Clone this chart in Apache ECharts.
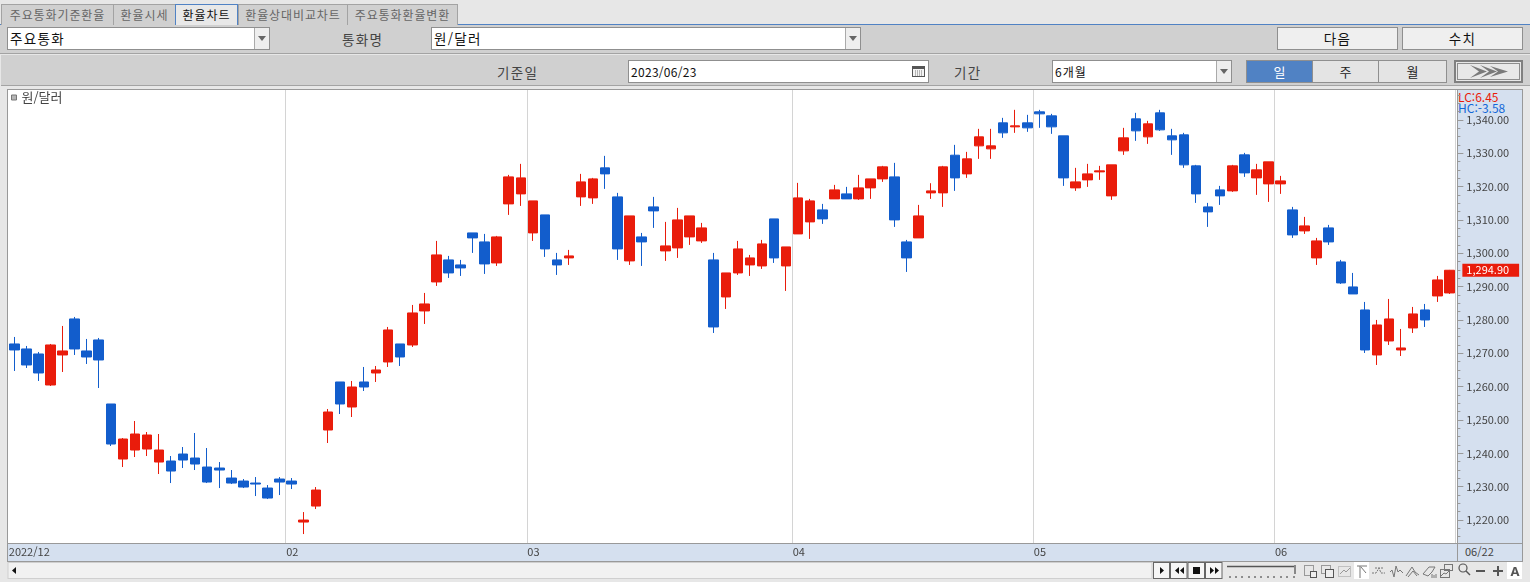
<!DOCTYPE html>
<html lang="ko">
<head>
<meta charset="utf-8">
<title>환율차트</title>
<script src="https://cdn.jsdelivr.net/npm/echarts@6/dist/echarts.min.js"></script>
<style>
html,body{margin:0;padding:0;width:1530px;height:582px;overflow:hidden;background:#e7e7e7;font-family:"Noto Sans CJK KR","Noto Sans",sans-serif;}
.a{position:absolute;box-sizing:border-box;white-space:nowrap;}
.tab{top:4px;height:21px;background:#d0d0d0;border:1px solid #a3a3a3;border-bottom:none;color:#666;font-size:12px;line-height:19px;text-align:center;letter-spacing:.9px;}
.tab.on{background:#e8e8e8;border:1px solid #5082c4;border-bottom:none;color:#111;height:21px;z-index:3;}
.box{background:#fff;border:1px solid #8f8f8f;color:#111;font-size:13.5px;line-height:21px;padding-left:2px;letter-spacing:1.3px;}
.arrow{background:#eee;border-left:1px solid #aaa;top:0;bottom:0;right:0;width:15px;}
.arrow:after{content:"";position:absolute;left:3px;top:8px;border-left:4px solid transparent;border-right:4px solid transparent;border-top:5px solid #666;}
.lbl{font-size:13.5px;color:#444;line-height:18px;letter-spacing:1.3px;}
.btn{top:27px;height:23px;background:#efefef;border:1px solid #8f8f8f;color:#111;font-size:13.5px;line-height:21px;text-align:center;letter-spacing:1.3px;}
.seg{top:60px;height:23px;background:#e4e4e4;border:1px solid #8f8f8f;color:#222;font-size:13px;line-height:21px;text-align:center;}
.seg.on{background:#5082c4;color:#fff;}
#chart{position:absolute;left:0;top:0;width:1530px;height:582px;}
</style>
</head>
<body>
<!-- top tabs -->
<div class="a" style="left:0;top:24px;width:1530px;height:1px;background:#5082c4"></div>
<div class="a tab" style="left:1px;width:113px">주요통화기준환율</div>
<div class="a tab" style="left:113px;width:63px">환율시세</div>
<div class="a tab on" style="left:175px;width:63px">환율차트</div>
<div class="a tab" style="left:238px;width:110px">환율상대비교차트</div>
<div class="a tab" style="left:347px;width:111px">주요통화환율변환</div>
<!-- row 2 -->
<div class="a" style="left:0;top:25px;width:1530px;height:29px;background:#d0d0d0;border-bottom:1px solid #a3a3a3"></div>
<div class="a box" style="left:7px;top:27px;width:263px;height:23px">주요통화<div class="a arrow"></div></div>
<div class="a lbl" style="left:342px;top:30px">통화명</div>
<div class="a box" style="left:431px;top:27px;width:430px;height:23px">원/달러<div class="a arrow"></div></div>
<div class="a btn" style="left:1277px;width:121px">다음</div>
<div class="a btn" style="left:1402px;width:121px">수치</div>
<!-- row 3 -->
<div class="a" style="left:1px;top:55px;width:1529px;height:31px;background:#d0d0d0;border-bottom:1px solid #a3a3a3"></div>
<div class="a lbl" style="left:497px;top:63px">기준일</div>
<div class="a box" style="left:628px;top:60px;width:301px;height:23px;font-size:12px;letter-spacing:.3px">2023/06/23
  <svg class="a" style="right:2px;top:3px" width="15" height="15"><rect x="1.5" y="2.5" width="12" height="10" fill="#f4f4f4" stroke="#555"/><rect x="2" y="3" width="11" height="2" fill="#555"/><path d="M4 7h7M4 9h7M4 11h7" stroke="#777" stroke-dasharray="1 1"/></svg>
</div>
<div class="a lbl" style="left:954px;top:63px">기간</div>
<div class="a box" style="left:1052px;top:60px;width:180px;height:23px;font-size:12px;letter-spacing:1px">6개월<div class="a arrow"></div></div>
<div class="a seg on" style="left:1246px;width:67px">일</div>
<div class="a seg" style="left:1312px;width:67px">주</div>
<div class="a seg" style="left:1378px;width:69px">월</div>
<div class="a" style="left:1454px;top:60px;width:69px;height:23px;background:#e8e8e8;border:2px solid #808080">
  <svg class="a" style="left:0;top:0" width="65" height="19"><rect x="1.5" y="1.5" width="62" height="16" fill="none" stroke="#333" stroke-dasharray="1 1"/><path d="M14 3l17 6.500-17 6.500 9-6.500zM24 3l17 6.500-17 6.500 9-6.500zM34 4l18 5.500-18 5.500 8-5.500z" fill="#7a7a7a"/></svg>
</div>
<!-- plot frame and axis bands -->
<div class="a" style="left:7px;top:89px;width:1516px;height:473px;background:#fff;border:1px solid #999"></div>
<div class="a" style="left:1458px;top:90px;width:64px;height:471px;background:#d5e0ef"></div>
<div class="a" style="left:8px;top:543px;width:1514px;height:18px;background:#d5e0ef;border-top:1px solid #999"></div>
<div class="a" style="left:1457px;top:543px;width:1px;height:18px;background:#999"></div>
<div class="a" style="left:1465px;top:543px;font-size:11px;line-height:16px;color:#444">06/22</div>
<div class="a" style="left:1458px;top:91px;font-size:12px;line-height:12px;color:#e91c0b">LC:6.45</div>
<div class="a" style="left:1458px;top:102px;font-size:12px;line-height:12px;color:#1268d8">HC:-3.58</div>

<div id="chart"></div>

<!-- bottom scroll bar and tool icons -->
<svg class="a" style="left:0;top:560px;z-index:4" width="1530" height="22" viewBox="0 560 1530 22">
  <rect x="8" y="562.5" width="1144" height="16" fill="#f1f1f1" stroke="#cfcfcf"/>
  <path d="M16 567v7l-4-3.5z" fill="#111"/>
  <g fill="#f6f6f6" stroke="#666">
    <rect x="1153.5" y="562.5" width="16" height="16"/><rect x="1170.5" y="562.5" width="16.500" height="16"/><rect x="1188" y="562.5" width="16.500" height="16"/><rect x="1205.500" y="562.5" width="16.500" height="16"/>
  </g>
  <path d="M1160 567v7l4-3.500zM1179 567v7l-4-3.500zM1184 567v7l-4-3.500zM1193 567h7v7h-7zM1210 567v7l4-3.500zM1215 567v7l4-3.500z" fill="#111"/>
  <path d="M1227 566.500h68" stroke="#555" stroke-width="1.500"/><rect x="1294" y="565" width="2" height="9" fill="#888"/>
  <path d="M1230 576v2M1236 576v2M1242 576v2M1249 576v2M1255 576v2M1261 576v2M1268 576v2M1274 576v2M1281 576v2M1287 576v2M1294 576v2" stroke="#333"/>
  <g fill="none" stroke="#999">
    <rect x="1304.500" y="565.500" width="9" height="10"/><rect x="1310.500" y="571.500" width="6" height="6" fill="#eee" stroke="#555"/>
    <rect x="1321.500" y="565.500" width="9" height="8"/><rect x="1325.500" y="569.500" width="8" height="8" fill="#eee" stroke="#555"/>
    <rect x="1338.500" y="566.500" width="12" height="10" stroke-dasharray="1 1"/><path d="M1340 574l4-4 2 2 4-4"/>
  </g>
  <rect x="1354" y="562" width="15" height="17" fill="#fff"/>
  <g fill="none" stroke="#777">
    <path d="M1357 566h10M1360 566v12M1361 567l5 6"/>
    <path d="M1372 573h4l3-5 2 5h4M1375 568h8" stroke-dasharray="2 1"/>
    <path d="M1390 572l2-2 2 7 2-11 2 6 2-2 3 3"/>
    <path d="M1406 576l6-9 3 5 4 3M1408 577l5-6 4 5"/>
    <path d="M1423 574l6-7h6l-3 5-4 4zM1432 574v4M1434 575v3M1436 574v4"/>
    <rect x="1440.500" y="569.500" width="9" height="8"/><rect x="1444.500" y="564.500" width="8" height="6"/><path d="M1441 576l3-3 2 1 3-3"/>
  </g>
  <circle cx="1463" cy="568" r="4" fill="none" stroke="#555" stroke-width="1.200"/><path d="M1466 571l4 4" stroke="#555" stroke-width="1.500"/>
  <path d="M1476 571h9M1493 571h10M1498 566v10" stroke="#555" stroke-width="2"/>
  <rect x="1507" y="562" width="15" height="17" fill="#fff"/>
  <text x="1515" y="576" text-anchor="middle" font-size="13" font-weight="700" fill="#555" font-family="Noto Sans">A</text>
</svg>

<script>
const seriesName = '원/달러';
const categories = [
'2022/12/27','2022/12/28','2022/12/29',
'2023/01/02','2023/01/03','2023/01/04','2023/01/05','2023/01/06','2023/01/09','2023/01/10','2023/01/11','2023/01/12','2023/01/13','2023/01/16','2023/01/17','2023/01/18','2023/01/19','2023/01/20','2023/01/25','2023/01/26','2023/01/27','2023/01/30','2023/01/31',
'2023/02/01','2023/02/02','2023/02/03','2023/02/06','2023/02/07','2023/02/08','2023/02/09','2023/02/10','2023/02/13','2023/02/14','2023/02/15','2023/02/16','2023/02/17','2023/02/20','2023/02/21','2023/02/22','2023/02/23','2023/02/24','2023/02/27','2023/02/28',
'2023/03/02','2023/03/03','2023/03/06','2023/03/07','2023/03/08','2023/03/09','2023/03/10','2023/03/13','2023/03/14','2023/03/15','2023/03/16','2023/03/17','2023/03/20','2023/03/21','2023/03/22','2023/03/23','2023/03/24','2023/03/27','2023/03/28','2023/03/29','2023/03/30','2023/03/31',
'2023/04/03','2023/04/04','2023/04/05','2023/04/06','2023/04/07','2023/04/10','2023/04/11','2023/04/12','2023/04/13','2023/04/14','2023/04/17','2023/04/18','2023/04/19','2023/04/20','2023/04/21','2023/04/24','2023/04/25','2023/04/26','2023/04/27','2023/04/28',
'2023/05/02','2023/05/03','2023/05/04','2023/05/08','2023/05/09','2023/05/10','2023/05/11','2023/05/12','2023/05/15','2023/05/16','2023/05/17','2023/05/18','2023/05/19','2023/05/22','2023/05/23','2023/05/24','2023/05/25','2023/05/26','2023/05/30','2023/05/31',
'2023/06/01','2023/06/02','2023/06/05','2023/06/07','2023/06/08','2023/06/09','2023/06/12','2023/06/13','2023/06/14','2023/06/15','2023/06/16','2023/06/19','2023/06/20','2023/06/21','2023/06/22'];

const opens = [
1272.8,1271.3,1269.8,1260.5,1269.5,1280.3,1270.7,1274.0,1254.8,1238.3,
1241.0,1241.3,1237.4,1237.7,1239.8,1238.6,1235.9,1235.6,1232.6,1231.7,
1231.1,1229.6,1232.3,1231.7,1219.4,1224.2,1247.0,1261.4,1253.9,1261.4,
1264.1,1267.4,1272.8,1272.5,1282.7,1291.4,1298.0,1296.5,1306.1,1303.4,
1297.1,1314.8,1317.8,1306.1,1311.5,1298.0,1298.6,1316.9,1316.6,1325.6,
1316.9,1297.7,1304.9,1313.9,1300.7,1301.6,1304.9,1303.7,1298.0,1286.9,
1294.1,1296.5,1296.2,1310.3,1296.2,1305.8,1309.4,1313.0,1316.3,1317.8,
1316.3,1319.6,1322.3,1322.9,1303.4,1304.6,1318.1,1318.1,1329.4,1323.8,
1332.2,1331.3,1339.1,1337.9,1339.1,1342.4,1341.2,1335.2,1319.6,1322.0,
1324.4,1317.2,1330.7,1340.3,1334.9,1342.1,1335.2,1335.5,1326.2,1313.9,
1319.0,1318.7,1329.5,1322.6,1320.8,1320.8,1313.0,1306.7,1298.6,1307.6,
1297.4,1289.9,1283.0,1269.5,1273.7,1271.0,1277.6,1283.0,1287.2,1288.1];

const closes = [
1271.0,1266.5,1264.1,1272.5,1270.7,1271.3,1268.9,1268.0,1242.8,1244.3,
1245.8,1245.5,1241.0,1234.7,1238.0,1236.8,1231.4,1235.0,1231.1,1229.9,
1230.8,1226.6,1231.4,1230.8,1220.0,1229.0,1252.4,1254.8,1259.9,1259.9,
1265.0,1277.0,1268.9,1282.1,1284.8,1299.5,1294.1,1295.6,1304.6,1296.8,
1304.9,1322.9,1322.6,1315.7,1301.3,1296.5,1299.2,1321.4,1322.3,1323.8,
1301.3,1311.2,1303.4,1312.7,1302.2,1310.0,1311.2,1307.6,1277.9,1294.1,
1301.3,1298.6,1302.8,1298.6,1301.9,1316.6,1315.7,1310.3,1319.0,1316.3,
1319.6,1322.3,1325.9,1310.0,1298.6,1311.2,1318.7,1325.9,1322.6,1328.3,
1334.9,1332.2,1336.1,1338.2,1337.6,1341.8,1337.9,1322.6,1321.4,1323.8,
1324.7,1326.5,1334.6,1336.7,1338.8,1337.0,1334.0,1326.5,1317.8,1312.4,
1317.2,1326.2,1324.1,1325.0,1327.4,1321.7,1305.5,1308.2,1303.7,1303.4,
1291.1,1287.8,1271.0,1278.5,1280.3,1271.6,1281.8,1280.0,1292.0,1294.9];

const lows = [
1264.7,1265.6,1261.7,1260.2,1264.4,1269.5,1266.8,1259.6,1242.2,1235.9,
1238.9,1239.2,1233.8,1231.1,1235.6,1235.0,1231.1,1229.6,1230.8,1229.6,
1227.2,1226.3,1227.5,1229.3,1215.8,1223.3,1243.1,1251.8,1250.9,1258.7,
1261.4,1265.9,1266.2,1271.9,1278.8,1290.2,1292.6,1293.2,1300.1,1293.8,
1296.2,1311.5,1314.2,1303.7,1298.9,1293.5,1296.5,1314.2,1314.8,1319.3,
1298.0,1296.5,1296.2,1307.6,1297.7,1298.6,1302.5,1303.1,1276.1,1283.3,
1293.5,1293.2,1295.3,1297.1,1288.7,1305.8,1304.3,1308.8,1316.3,1316.3,
1316.0,1316.3,1321.4,1307.9,1294.4,1304.6,1316.3,1313.9,1318.7,1322.6,
1328.3,1328.3,1334.6,1336.1,1336.4,1337.6,1335.8,1320.2,1318.7,1319.9,
1322.0,1316.0,1329.5,1333.7,1332.8,1336.7,1329.5,1325.6,1315.1,1307.9,
1314.5,1318.4,1322.9,1317.5,1315.4,1317.8,1304.6,1305.8,1296.5,1302.5,
1290.8,1287.8,1270.1,1266.5,1272.5,1269.2,1276.1,1277.9,1285.4,1287.8];

const highs = [
1274.9,1272.2,1270.4,1272.8,1278.2,1280.9,1274.3,1274.6,1254.8,1244.6,
1249.7,1246.4,1245.8,1239.2,1241.9,1246.1,1241.6,1237.4,1235.0,1232.3,
1232.9,1230.5,1232.9,1232.6,1222.4,1229.9,1253.3,1261.4,1261.7,1265.9,
1266.2,1277.9,1272.8,1284.5,1288.1,1303.7,1299.2,1298.0,1306.1,1305.8,
1305.2,1323.5,1326.8,1315.7,1311.5,1300.1,1301.0,1323.8,1322.6,1329.2,
1318.1,1311.2,1306.1,1316.9,1309.4,1313.6,1311.2,1309.1,1300.1,1294.1,
1303.7,1299.5,1304.0,1310.3,1301.9,1321.1,1316.3,1314.8,1320.5,1319.9,
1323.5,1322.3,1326.2,1327.1,1304.0,1314.5,1321.0,1326.2,1332.5,1330.4,
1337.3,1337.3,1340.6,1343.0,1341.5,1343.0,1341.8,1335.2,1325.6,1326.8,
1326.2,1326.5,1337.6,1342.1,1339.7,1343.0,1337.3,1336.1,1326.5,1315.1,
1320.2,1326.5,1330.1,1326.8,1327.4,1323.2,1313.9,1310.9,1304.6,1308.5,
1298.0,1294.1,1285.4,1280.0,1286.3,1277.3,1283.9,1284.8,1293.2,1295.0];

const monthLabels = {'2022/12/27':'2022/12','2023/02/01':'02','2023/03/02':'03','2023/04/03':'04','2023/05/02':'05','2023/06/01':'06'};
const gridDates = ['2023/02/01','2023/03/02','2023/04/03','2023/05/02','2023/06/01'];
const yLabels = [1220,1230,1240,1250,1260,1270,1280,1290,1300,1310,1320,1330,1340];
const yMinorTicks = [1215,1217.5,1222.5,1225,1227.5,1232.5,1235,1237.5,1242.5,1245,1247.5,1252.5,1255,1257.5,1262.5,1265,1267.5,1272.5,1275,1277.5,1282.5,1285,1287.5,1292.5,1295,1297.5,1302.5,1305,1307.5,1312.5,1315,1317.5,1322.5,1325,1327.5,1332.5,1335,1337.5,1342.5,1345,1347.5];
const yRange = [1213.12, 1348.95];
const lastClose = 1294.9;

const candles = categories.map((_, i) => [opens[i], closes[i], lows[i], highs[i]]);
const money = v => v.toLocaleString('en-US', {minimumFractionDigits: 2, maximumFractionDigits: 2});
const RED = '#e91c0b', BLUE = '#125dcc';
const chart = echarts.init(document.getElementById('chart'), null, {renderer: 'canvas'});
const yBase = {type: 'value', position: 'right', offset: 2, min: yRange[0], max: yRange[1], scale: true, splitLine: {show: false}};
chart.setOption({
  animation: false,
  backgroundColor: 'transparent',
  textStyle: {fontFamily: '"Noto Sans CJK KR","Noto Sans",sans-serif'},
  legend: {
    left: 8, top: 91, itemWidth: 5, itemHeight: 5, itemGap: 4, padding: [0, 0, 0, 3],
    data: [{name: seriesName, icon: 'rect', itemStyle: {color: '#b5b5b5', borderColor: '#777', borderWidth: 1}}],
    textStyle: {fontSize: 13, color: '#444'}
  },
  grid: {left: 8.27, top: 90, width: 1447.1, height: 453, show: false, outerBoundsMode: 'none', containLabel: false},
  xAxis: {
    type: 'category', data: categories, boundaryGap: true,
    axisLine: {show: false}, axisTick: {show: false},
    splitLine: {show: true, interval: (i, v) => gridDates.includes(v), lineStyle: {color: '#d4d4d4', width: 1}},
    axisLabel: {
      interval: (i, v) => v in monthLabels, margin: 1, hideOverlap: false,
      formatter: v => '{a|' + monthLabels[v] + '}',
      rich: {a: {width: 11, fontSize: 11, color: '#444', align: 'left', lineHeight: 16}}
    }
  },
  yAxis: [
    Object.assign({}, yBase, {
      axisLine: {show: true, lineStyle: {color: '#999'}},
      axisTick: {show: true, length: 6, customValues: yLabels, lineStyle: {color: '#999'}},
      axisLabel: {customValues: yLabels, margin: 9, fontSize: 11, color: '#444', padding: [0, 0, 2, 0], formatter: money}
    }),
    Object.assign({}, yBase, {
      axisLine: {show: false},
      axisTick: {show: true, length: 3, customValues: yMinorTicks, lineStyle: {color: '#999'}},
      axisLabel: {customValues: [lastClose], margin: 5, fontSize: 11, color: '#fff', backgroundColor: RED, padding: [0, 10, 0, 4], lineHeight: 13, formatter: money}
    })
  ],
  series: [{
    name: seriesName, type: 'candlestick', data: candles, barWidth: 10, clip: false,
    itemStyle: {color: RED, color0: BLUE, borderColor: RED, borderColor0: BLUE, borderWidth: 1}
  }]
});
</script>
</body>
</html>
